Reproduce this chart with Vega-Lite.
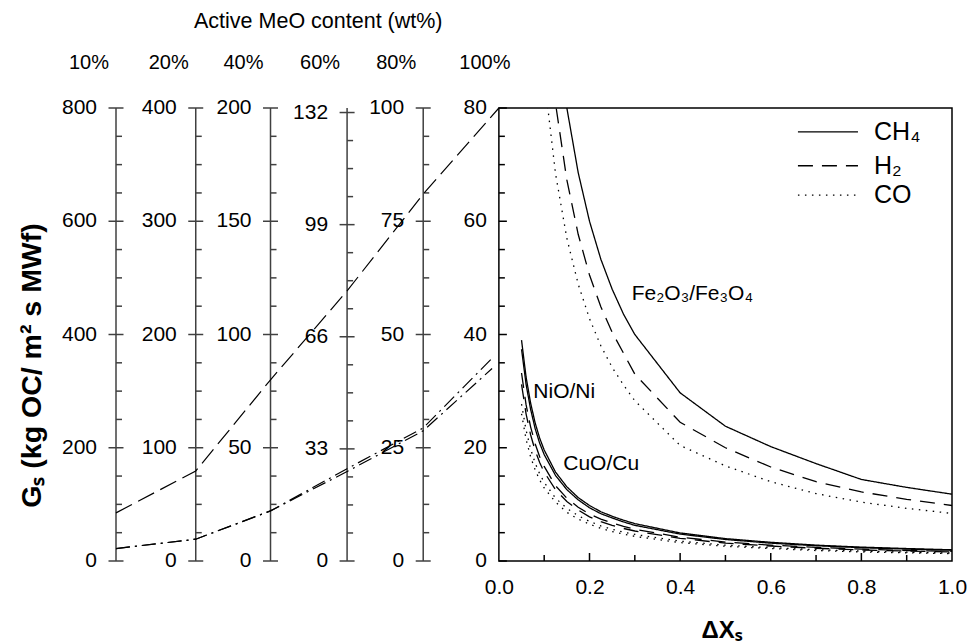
{
  "$schema": "https://vega.github.io/schema/vega-lite/v6.json",
  "width": 836,
  "height": 453,
  "autosize": {"type": "none"},
  "padding": {"left": 116, "top": 108, "right": 21, "bottom": 83},
  "background": "white",
  "config": {"font": "Liberation Sans", "view": {"stroke": null}, "axis": {"grid": false}},
  "datasets": {
    "axes": [{"p": -0.845}, {"p": -0.669}, {"p": -0.504}, {"p": -0.335}, {"p": -0.167}],
    "lmaj": [
      {"p": -0.845, "v": 0, "t": "0"}, {"p": -0.845, "v": 20, "t": "200"}, {"p": -0.845, "v": 40, "t": "400"}, {"p": -0.845, "v": 60, "t": "600"}, {"p": -0.845, "v": 80, "t": "800"},
      {"p": -0.669, "v": 0, "t": "0"}, {"p": -0.669, "v": 20, "t": "100"}, {"p": -0.669, "v": 40, "t": "200"}, {"p": -0.669, "v": 60, "t": "300"}, {"p": -0.669, "v": 80, "t": "400"},
      {"p": -0.504, "v": 0, "t": "0"}, {"p": -0.504, "v": 20, "t": "50"}, {"p": -0.504, "v": 40, "t": "100"}, {"p": -0.504, "v": 60, "t": "150"}, {"p": -0.504, "v": 80, "t": "200"},
      {"p": -0.335, "v": 0, "t": "0"}, {"p": -0.335, "v": 19.8, "t": "33"}, {"p": -0.335, "v": 39.6, "t": "66"}, {"p": -0.335, "v": 59.4, "t": "99"}, {"p": -0.335, "v": 79.2, "t": "132"},
      {"p": -0.167, "v": 0, "t": "0"}, {"p": -0.167, "v": 20, "t": "25"}, {"p": -0.167, "v": 40, "t": "50"}, {"p": -0.167, "v": 60, "t": "75"}, {"p": -0.167, "v": 80, "t": "100"}
    ],
    "lmin": [
      {"p": -0.845, "v": 5}, {"p": -0.845, "v": 10}, {"p": -0.845, "v": 15}, {"p": -0.845, "v": 25}, {"p": -0.845, "v": 30}, {"p": -0.845, "v": 35}, {"p": -0.845, "v": 45}, {"p": -0.845, "v": 50}, {"p": -0.845, "v": 55}, {"p": -0.845, "v": 65}, {"p": -0.845, "v": 70}, {"p": -0.845, "v": 75},
      {"p": -0.669, "v": 5}, {"p": -0.669, "v": 10}, {"p": -0.669, "v": 15}, {"p": -0.669, "v": 25}, {"p": -0.669, "v": 30}, {"p": -0.669, "v": 35}, {"p": -0.669, "v": 45}, {"p": -0.669, "v": 50}, {"p": -0.669, "v": 55}, {"p": -0.669, "v": 65}, {"p": -0.669, "v": 70}, {"p": -0.669, "v": 75},
      {"p": -0.504, "v": 5}, {"p": -0.504, "v": 10}, {"p": -0.504, "v": 15}, {"p": -0.504, "v": 25}, {"p": -0.504, "v": 30}, {"p": -0.504, "v": 35}, {"p": -0.504, "v": 45}, {"p": -0.504, "v": 50}, {"p": -0.504, "v": 55}, {"p": -0.504, "v": 65}, {"p": -0.504, "v": 70}, {"p": -0.504, "v": 75},
      {"p": -0.335, "v": 4.95}, {"p": -0.335, "v": 9.9}, {"p": -0.335, "v": 14.85}, {"p": -0.335, "v": 24.75}, {"p": -0.335, "v": 29.7}, {"p": -0.335, "v": 34.65}, {"p": -0.335, "v": 44.55}, {"p": -0.335, "v": 49.5}, {"p": -0.335, "v": 54.45}, {"p": -0.335, "v": 64.35}, {"p": -0.335, "v": 69.3}, {"p": -0.335, "v": 74.25},
      {"p": -0.167, "v": 5}, {"p": -0.167, "v": 10}, {"p": -0.167, "v": 15}, {"p": -0.167, "v": 25}, {"p": -0.167, "v": 30}, {"p": -0.167, "v": 35}, {"p": -0.167, "v": 45}, {"p": -0.167, "v": 50}, {"p": -0.167, "v": 55}, {"p": -0.167, "v": 65}, {"p": -0.167, "v": 70}, {"p": -0.167, "v": 75}
    ],
    "rmaj": [{"v": 0, "t": "0"}, {"v": 20, "t": "20"}, {"v": 40, "t": "40"}, {"v": 60, "t": "60"}, {"v": 80, "t": "80"}],
    "rmin": [{"v": 5}, {"v": 10}, {"v": 15}, {"v": 25}, {"v": 30}, {"v": 35}, {"v": 45}, {"v": 50}, {"v": 55}, {"v": 65}, {"v": 70}, {"v": 75}],
    "bmaj": [{"x": 0.2}, {"x": 0.4}, {"x": 0.6}, {"x": 0.8}],
    "bmin": [{"x": 0.1}, {"x": 0.3}, {"x": 0.5}, {"x": 0.7}, {"x": 0.9}],
    "heads": [{"p": -0.845, "t": "10%"}, {"p": -0.669, "t": "20%"}, {"p": -0.504, "t": "40%"}, {"p": -0.335, "t": "60%"}, {"p": -0.167, "t": "80%"}],
    "head100": [{"p": 0, "t": "100%"}],
    "toptitle": [{"p": -0.845, "t": "Active MeO content (wt%)"}],
    "nomo": [
      {"s": "max", "p": -0.845, "v": 8.5}, {"s": "max", "p": -0.669, "v": 15.9}, {"s": "max", "p": -0.504, "v": 32.0}, {"s": "max", "p": -0.335, "v": 47.7}, {"s": "max", "p": -0.167, "v": 64.8}, {"s": "max", "p": 0, "v": 80},
      {"s": "A", "p": -0.845, "v": 2.2}, {"s": "A", "p": -0.669, "v": 3.85}, {"s": "A", "p": -0.504, "v": 8.85}, {"s": "A", "p": -0.335, "v": 16.3}, {"s": "A", "p": -0.167, "v": 23.5}, {"s": "A", "p": -0.015, "v": 35.8},
      {"s": "B", "p": -0.845, "v": 2.2}, {"s": "B", "p": -0.669, "v": 3.85}, {"s": "B", "p": -0.504, "v": 8.85}, {"s": "B", "p": -0.335, "v": 15.8}, {"s": "B", "p": -0.167, "v": 23.0}, {"s": "B", "p": -0.015, "v": 34.0}
    ],
    "curves": [
      {"x": 0.05, "Ni_CH4": 39.0, "Cu_CH4": 37.4, "Ni_H2": 33.2, "Cu_H2": 31.2, "Ni_CO": 27.7, "Cu_CO": 26.0},
      {"x": 0.06, "Ni_CH4": 32.5, "Cu_CH4": 31.2, "Ni_H2": 27.6, "Cu_H2": 26.0, "Ni_CO": 23.1, "Cu_CO": 21.5},
      {"x": 0.07, "Ni_CH4": 27.9, "Cu_CH4": 26.8, "Ni_H2": 23.7, "Cu_H2": 22.3, "Ni_CO": 19.8, "Cu_CO": 18.4},
      {"x": 0.08, "Ni_CH4": 24.4, "Cu_CH4": 23.4, "Ni_H2": 20.7, "Cu_H2": 19.5, "Ni_CO": 17.3, "Cu_CO": 16.1},
      {"x": 0.09, "Fe_CO": 95, "Ni_CH4": 21.7, "Cu_CH4": 20.8, "Ni_H2": 18.4, "Cu_H2": 17.4, "Ni_CO": 15.4, "Cu_CO": 14.3},
      {"x": 0.1, "Fe_H2": 101, "Fe_CO": 85.5, "Ni_CH4": 19.6, "Cu_CH4": 18.8, "Ni_H2": 16.7, "Cu_H2": 15.7, "Ni_CO": 13.9, "Cu_CO": 12.9},
      {"x": 0.125, "Fe_CH4": 96, "Fe_H2": 80.8, "Fe_CO": 68.4, "Ni_CH4": 15.7, "Cu_CH4": 15.1, "Ni_H2": 13.3, "Cu_H2": 12.6, "Ni_CO": 11.1, "Cu_CO": 10.4},
      {"x": 0.15, "Fe_CH4": 80, "Fe_H2": 67.3, "Fe_CO": 57.0, "Ni_CH4": 13.1, "Cu_CH4": 12.6, "Ni_H2": 11.1, "Cu_H2": 10.5, "Ni_CO": 9.3, "Cu_CO": 8.6},
      {"x": 0.175, "Fe_CH4": 68.6, "Fe_H2": 57.7, "Fe_CO": 48.9, "Ni_CH4": 11.2, "Cu_CH4": 10.8, "Ni_H2": 9.5, "Cu_H2": 9.0, "Ni_CO": 8.0, "Cu_CO": 7.4},
      {"x": 0.2, "Fe_CH4": 60.0, "Fe_H2": 50.5, "Fe_CO": 42.8, "Ni_CH4": 9.8, "Cu_CH4": 9.4, "Ni_H2": 8.3, "Cu_H2": 7.8, "Ni_CO": 7.0, "Cu_CO": 6.5},
      {"x": 0.225, "Fe_CH4": 53.3, "Fe_H2": 44.9, "Fe_CO": 38.0, "Ni_CH4": 8.7, "Cu_CH4": 8.35, "Ni_H2": 7.4, "Cu_H2": 6.95, "Ni_CO": 6.2, "Cu_CO": 5.75},
      {"x": 0.25, "Fe_CH4": 48.0, "Fe_H2": 40.4, "Fe_CO": 34.2, "Ni_CH4": 7.9, "Cu_CH4": 7.6, "Ni_H2": 6.7, "Cu_H2": 6.3, "Ni_CO": 5.6, "Cu_CO": 5.2},
      {"x": 0.275, "Fe_CH4": 43.6, "Fe_H2": 36.7, "Fe_CO": 31.1, "Ni_CH4": 7.2, "Cu_CH4": 6.9, "Ni_H2": 6.1, "Cu_H2": 5.75, "Ni_CO": 5.1, "Cu_CO": 4.75},
      {"x": 0.3, "Fe_CH4": 40.0, "Fe_H2": 33.0, "Fe_CO": 28.3, "Ni_CH4": 6.6, "Cu_CH4": 6.3, "Ni_H2": 5.6, "Cu_H2": 5.3, "Ni_CO": 4.7, "Cu_CO": 4.35},
      {"x": 0.4, "Fe_CH4": 29.7, "Fe_H2": 24.5, "Fe_CO": 20.4, "Ni_CH4": 4.95, "Cu_CH4": 4.75, "Ni_H2": 4.2, "Cu_H2": 4.0, "Ni_CO": 3.5, "Cu_CO": 3.25},
      {"x": 0.5, "Fe_CH4": 23.8, "Fe_H2": 20.0, "Fe_CO": 16.8, "Ni_CH4": 3.95, "Cu_CH4": 3.8, "Ni_H2": 3.35, "Cu_H2": 3.15, "Ni_CO": 2.8, "Cu_CO": 2.6},
      {"x": 0.6, "Fe_CH4": 20.2, "Fe_H2": 16.6, "Fe_CO": 14.0, "Ni_CH4": 3.3, "Cu_CH4": 3.15, "Ni_H2": 2.8, "Cu_H2": 2.65, "Ni_CO": 2.35, "Cu_CO": 2.2},
      {"x": 0.7, "Fe_CH4": 17.2, "Fe_H2": 14.0, "Fe_CO": 11.9, "Ni_CH4": 2.8, "Cu_CH4": 2.7, "Ni_H2": 2.4, "Cu_H2": 2.25, "Ni_CO": 2.0, "Cu_CO": 1.85},
      {"x": 0.8, "Fe_CH4": 14.4, "Fe_H2": 12.2, "Fe_CO": 10.4, "Ni_CH4": 2.45, "Cu_CH4": 2.35, "Ni_H2": 2.1, "Cu_H2": 1.95, "Ni_CO": 1.75, "Cu_CO": 1.6},
      {"x": 0.9, "Fe_CH4": 13.0, "Fe_H2": 10.9, "Fe_CO": 9.3, "Ni_CH4": 2.2, "Cu_CH4": 2.1, "Ni_H2": 1.85, "Cu_H2": 1.75, "Ni_CO": 1.55, "Cu_CO": 1.45},
      {"x": 1.0, "Fe_CH4": 11.8, "Fe_H2": 9.8, "Fe_CO": 8.4, "Ni_CH4": 1.98, "Cu_CH4": 1.9, "Ni_H2": 1.7, "Cu_H2": 1.6, "Ni_CO": 1.4, "Cu_CO": 1.3}
    ],
    "notes": [{"x": 0.293, "y": 47.2, "t": "Fe₂O₃/Fe₃O₄"}, {"x": 0.076, "y": 29.8, "t": "NiO/Ni"}, {"x": 0.142, "y": 17.2, "t": "CuO/Cu"}],
    "legend": [{"k": "Fe_CH4", "y": 75.8, "t": "CH₄"}, {"k": "Fe_H2", "y": 69.8, "t": "H₂"}, {"k": "Fe_CO", "y": 64.6, "t": "CO"}]
  },
  "layer": [
    {
      "data": {"name": "curves"},
      "transform": [
        {"fold": ["Fe_CH4", "Fe_H2", "Fe_CO", "Ni_CH4", "Cu_CH4", "Ni_H2", "Cu_H2", "Ni_CO", "Cu_CO"], "as": ["k", "val"]},
        {"filter": "isValid(datum.val)"}
      ],
      "mark": {"type": "line", "clip": true, "color": "black", "strokeWidth": 1.3},
      "encoding": {
        "x": {"field": "x", "type": "quantitative", "scale": {"domain": [-0.845, 1], "nice": false, "zero": false},
          "axis": {"values": [0, 0.2, 0.4, 0.6, 0.8, 1.0], "format": ".1f", "ticks": false, "domain": false, "grid": false, "labelFontSize": 21, "labelPadding": 15, "labelColor": "black", "labelFlush": false, "labelOverlap": false,
            "title": "ΔXₛ", "titleFontSize": 24, "titleFontWeight": "bold", "titleColor": "black", "titleX": 605, "titleY": 69, "titleBaseline": "middle", "titleAlign": "center"}},
        "y": {"field": "val", "type": "quantitative", "scale": {"domain": [0, 80], "nice": false},
          "axis": {"title": "Gₛ (kg OC/ m² s MWf)", "labels": false, "ticks": false, "domain": false, "grid": false, "titleFontSize": 28.5, "titleFontWeight": "bold", "titleColor": "black", "titleX": -85, "titleY": 257, "titleAngle": -90, "titleAlign": "center", "titleBaseline": "middle"}},
        "strokeDash": {"field": "k", "type": "nominal", "legend": null,
          "scale": {"domain": ["Fe_CH4", "Fe_H2", "Fe_CO", "Ni_CH4", "Cu_CH4", "Ni_H2", "Cu_H2", "Ni_CO", "Cu_CO", "max", "A", "B"],
            "range": [[1, 0], [15, 9], [1.5, 5.5], [1, 0], [1, 0], [15, 9], [15, 9], [1.5, 5.5], [1.5, 5.5], [18, 7], [14, 5, 2, 5], [14, 5, 2, 5]]}}
      }
    },
    {
      "data": {"values": [{}]},
      "mark": {"type": "rect", "filled": false, "color": "black", "strokeWidth": 1.5},
      "encoding": {"x": {"datum": 0}, "x2": {"datum": 1}, "y": {"datum": 0}, "y2": {"datum": 80}}
    },
    {
      "data": {"name": "axes"},
      "mark": {"type": "rule", "color": "#404040", "strokeWidth": 1.5},
      "encoding": {"x": {"field": "p", "type": "quantitative"}, "y": {"datum": 0}, "y2": {"datum": 80}}
    },
    {
      "data": {"name": "lmaj"},
      "mark": {"type": "rule", "color": "#404040", "strokeWidth": 1.5, "xOffset": -7.5, "x2Offset": 7.5},
      "encoding": {"x": {"field": "p", "type": "quantitative"}, "x2": {"field": "p"}, "y": {"field": "v", "type": "quantitative"}}
    },
    {
      "data": {"name": "lmin"},
      "mark": {"type": "rule", "color": "#404040", "strokeWidth": 1.5, "x2Offset": 6},
      "encoding": {"x": {"field": "p", "type": "quantitative"}, "x2": {"field": "p"}, "y": {"field": "v", "type": "quantitative"}}
    },
    {
      "data": {"name": "lmaj"},
      "mark": {"type": "text", "align": "right", "baseline": "middle", "dx": -19, "fontSize": 21, "color": "black"},
      "encoding": {"x": {"field": "p", "type": "quantitative"}, "y": {"field": "v", "type": "quantitative"}, "text": {"field": "t"}}
    },
    {
      "data": {"name": "rmaj"},
      "mark": {"type": "rule", "color": "black", "strokeWidth": 1.5, "x2Offset": 8},
      "encoding": {"x": {"datum": 0}, "x2": {"datum": 0}, "y": {"field": "v", "type": "quantitative"}}
    },
    {
      "data": {"name": "rmin"},
      "mark": {"type": "rule", "color": "black", "strokeWidth": 1.5, "x2Offset": 6},
      "encoding": {"x": {"datum": 0}, "x2": {"datum": 0}, "y": {"field": "v", "type": "quantitative"}}
    },
    {
      "data": {"name": "rmaj"},
      "mark": {"type": "text", "align": "right", "baseline": "middle", "dx": -12, "fontSize": 21, "color": "black"},
      "encoding": {"x": {"datum": 0}, "y": {"field": "v", "type": "quantitative"}, "text": {"field": "t"}}
    },
    {
      "data": {"name": "bmaj"},
      "mark": {"type": "rule", "color": "black", "strokeWidth": 1.5, "y2Offset": -8},
      "encoding": {"x": {"field": "x", "type": "quantitative"}, "y": {"datum": 0}, "y2": {"datum": 0}}
    },
    {
      "data": {"name": "bmin"},
      "mark": {"type": "rule", "color": "black", "strokeWidth": 1.5, "y2Offset": -6},
      "encoding": {"x": {"field": "x", "type": "quantitative"}, "y": {"datum": 0}, "y2": {"datum": 0}}
    },
    {
      "data": {"name": "nomo"},
      "mark": {"type": "line", "color": "black", "strokeWidth": 1.2},
      "encoding": {"x": {"field": "p", "type": "quantitative"}, "y": {"field": "v", "type": "quantitative"}, "strokeDash": {"field": "s", "type": "nominal", "legend": null}}
    },
    {
      "data": {"name": "heads"},
      "mark": {"type": "text", "align": "center", "baseline": "middle", "dx": -27, "dy": -45.5, "fontSize": 20, "color": "black"},
      "encoding": {"x": {"field": "p", "type": "quantitative"}, "y": {"datum": 80}, "text": {"field": "t"}}
    },
    {
      "data": {"name": "head100"},
      "mark": {"type": "text", "align": "center", "baseline": "middle", "dx": -14, "dy": -45.5, "fontSize": 20, "color": "black"},
      "encoding": {"x": {"field": "p", "type": "quantitative"}, "y": {"datum": 80}, "text": {"field": "t"}}
    },
    {
      "data": {"name": "toptitle"},
      "mark": {"type": "text", "align": "left", "baseline": "middle", "dx": 78, "dy": -86.5, "fontSize": 21.5, "color": "black"},
      "encoding": {"x": {"field": "p", "type": "quantitative"}, "y": {"datum": 80}, "text": {"field": "t"}}
    },
    {
      "data": {"name": "notes"},
      "mark": {"type": "text", "align": "left", "baseline": "middle", "fontSize": 21, "color": "black"},
      "encoding": {"x": {"field": "x", "type": "quantitative"}, "y": {"field": "y", "type": "quantitative"}, "text": {"field": "t"}}
    },
    {
      "data": {"name": "legend"},
      "mark": {"type": "rule", "color": "black", "strokeWidth": 1.3},
      "encoding": {"x": {"datum": 0.66}, "x2": {"datum": 0.7925}, "y": {"field": "y", "type": "quantitative"}, "strokeDash": {"field": "k", "type": "nominal", "legend": null}}
    },
    {
      "data": {"name": "legend"},
      "mark": {"type": "text", "align": "left", "baseline": "middle", "fontSize": 25, "color": "black"},
      "encoding": {"x": {"datum": 0.828}, "y": {"field": "y", "type": "quantitative"}, "text": {"field": "t"}}
    }
  ]
}
